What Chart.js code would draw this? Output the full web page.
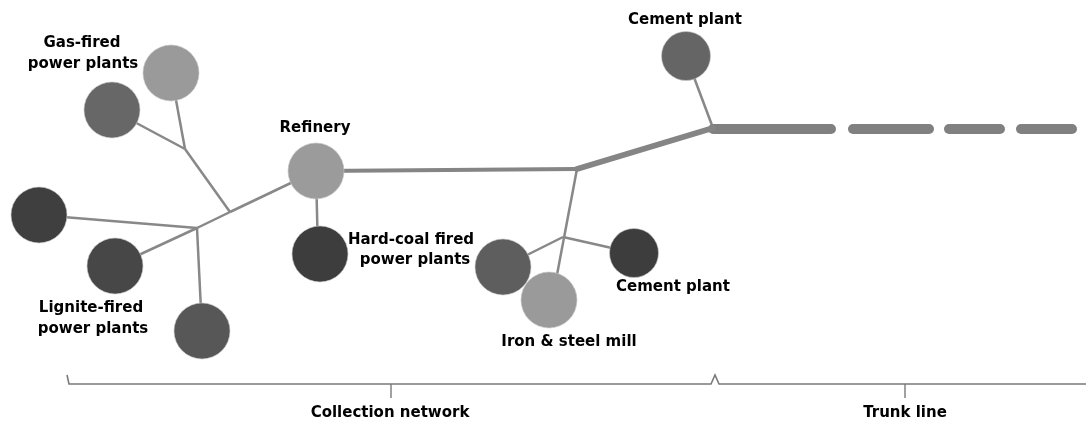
<!DOCTYPE html>
<html>
<head>
<meta charset="utf-8">
<script src="https://cdn.jsdelivr.net/npm/chart.js@4/dist/chart.umd.min.js"></script>
<style>
  html, body { margin: 0; padding: 0; background: #fff; }
  #wrap { width: 1086px; height: 421px; position: relative; }
</style>
</head>
<body>
<div id="wrap"><canvas id="net"></canvas></div>
<script>
// plant nodes (diagram units, y grows downwards)
const nodeNames = ['gasLight', 'gasDark', 'refinery', 'ligLeft', 'ligMid', 'ligLow',
                   'coal1', 'coal2', 'iron', 'cementLow', 'cementTop'];
const nodeX = [171, 112, 316, 39, 115, 202, 320, 503, 549, 634, 686];
const nodeY = [73, 110, 171, 215, 266, 331, 254, 267, 300, 253, 56];
const nodeR = [28, 28, 28, 28, 28, 28, 28, 28, 28, 24.5, 24.5];
const nodeShade = ['#9a9a9a', '#676767', '#9b9b9b', '#3f3f3f', '#474747', '#575757',
                   '#3d3d3d', '#5e5e5e', '#9a9a9a', '#3d3d3d', '#656565'];

// thin pipes: [fromX, fromY, toX, toY]
const pipes = [
  [171, 73, 185, 149], [112, 110, 185, 149], [185, 149, 230, 212],
  [230, 212, 316, 171], [39, 215, 197, 228], [115, 266, 197, 228],
  [197, 228, 230, 212], [197, 228, 201, 310], [316, 171, 318, 254],
  [577, 169, 556, 280], [563, 237, 503, 267], [563, 237, 634, 253],
  [686, 56, 713, 128]
];
// thicker pipes: [fromX, fromY, toX, toY, width]
const mainPipes = [[316, 171, 577, 169, 4], [577, 169, 713, 128, 6]];

// trunk line dashes (start, end)
const trunkDashes = [[713, 831], [853, 929], [949, 1000], [1021, 1072]];
const trunkY = 129;

// labels
const labelText = ['Gas-fired', 'power plants', 'Refinery', 'Lignite-fired', 'power plants',
                   'Hard-coal fired', 'power plants', 'Cement plant', 'Iron & steel mill',
                   'Cement plant', 'Collection network', 'Trunk line'];
const labelX = [82, 83, 315, 91, 93, 411, 415, 673, 569, 685, 390, 905];
const labelY = [43, 64, 128, 308, 329, 240, 260, 287, 342, 20, 413, 413];

// brace under the diagram
const braceX = [67, 69, 711, 715, 719, 1086];
const braceY = [375, 384, 384, 375, 384, 384];
const braceTicks = [391, 905];

const datasets = [];

datasets.push({
  type: 'bubble',
  data: nodeX.map((x, i) => ({ x: x, y: nodeY[i], r: nodeR[i] })),
  backgroundColor: nodeShade,
  borderColor: nodeShade.map(() => 'rgba(200,200,200,0.6)'),
  borderWidth: 1,
  clip: false,
  order: 0
});

pipes.forEach(p => {
  datasets.push({
    type: 'line',
    data: [{ x: p[0], y: p[1] }, { x: p[2], y: p[3] }],
    borderColor: '#888888',
    borderWidth: 2.5,
    pointRadius: 0,
    order: 3
  });
});

mainPipes.forEach(p => {
  datasets.push({
    type: 'line',
    data: [{ x: p[0], y: p[1] }, { x: p[2], y: p[3] }],
    borderColor: '#858585',
    borderWidth: p[4],
    borderCapStyle: 'round',
    pointRadius: 0,
    order: 2
  });
});

trunkDashes.forEach(d => {
  datasets.push({
    type: 'line',
    data: [{ x: d[0], y: trunkY }, { x: d[1], y: trunkY }],
    borderColor: '#808080',
    borderWidth: 10,
    borderCapStyle: 'round',
    pointRadius: 0,
    order: 2
  });
});

datasets.push({
  type: 'line',
  data: braceX.map((x, i) => ({ x: x, y: braceY[i] })),
  borderColor: '#7a7a7a',
  borderWidth: 1.6,
  pointRadius: 0,
  clip: false,
  order: 4
});
braceTicks.forEach(x => {
  datasets.push({
    type: 'line',
    data: [{ x: x, y: 384 }, { x: x, y: 398 }],
    borderColor: '#7a7a7a',
    borderWidth: 1.4,
    pointRadius: 0,
    order: 4
  });
});

const labelPlugin = {
  id: 'labels',
  afterDatasetsDraw(chart) {
    const ctx = chart.ctx;
    const xs = chart.scales.x, ys = chart.scales.y;
    ctx.save();
    ctx.fillStyle = '#000';
    ctx.textAlign = 'center';
    ctx.textBaseline = 'middle';
    ctx.font = 'bold 15px "DejaVu Sans"';
    labelText.forEach((t, i) => {
      ctx.fillText(t, xs.getPixelForValue(labelX[i]), ys.getPixelForValue(labelY[i]));
    });
    ctx.restore();
  }
};

new Chart(document.getElementById('net'), {
  type: 'scatter',
  data: { datasets: datasets },
  options: {
    responsive: true,
    maintainAspectRatio: false,
    animation: false,
    layout: { padding: 0, autoPadding: false },
    plugins: { legend: { display: false }, tooltip: { enabled: false } },
    scales: {
      x: { type: 'linear', min: 0, max: 1086, display: false },
      y: { type: 'linear', min: 0, max: 421, reverse: true, display: false }
    }
  },
  plugins: [labelPlugin]
});
</script>
</body>
</html>
